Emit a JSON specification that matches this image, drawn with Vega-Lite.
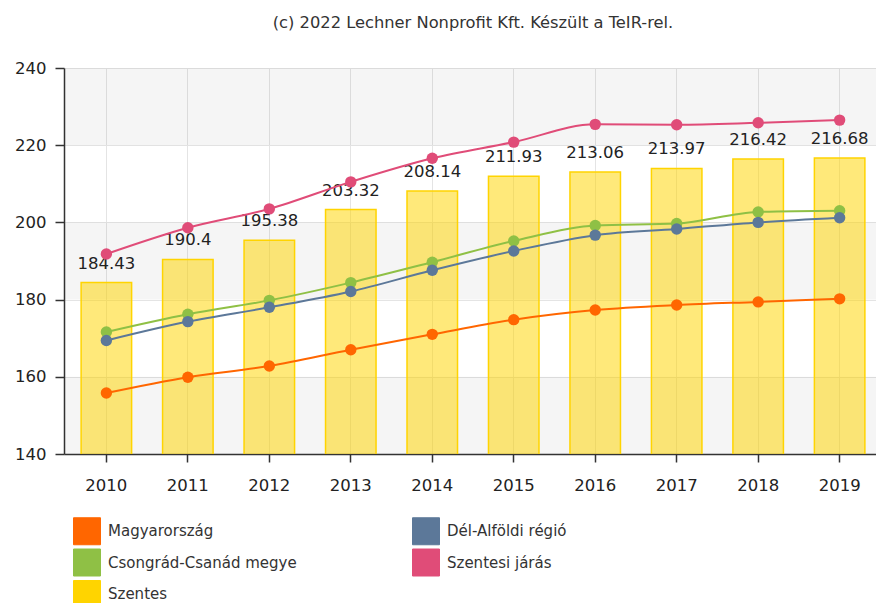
{
  "$schema": "https://vega.github.io/schema/vega-lite/v6.json",
  "autosize": "none",
  "width": 818,
  "height": 386,
  "padding": {"left": 64, "top": 68, "right": 0, "bottom": 149},
  "background": "#ffffff",
  "title": {
    "text": "(c) 2022 Lechner Nonprofit Kft. Készült a TeIR-rel.",
    "font": "DejaVu Sans",
    "fontSize": 16.3,
    "fontWeight": "normal",
    "color": "#333333",
    "anchor": "middle",
    "baseline": "alphabetic",
    "offset": 16
  },
  "config": {
    "font": "DejaVu Sans",
    "view": {"stroke": null},
    "axis": {
      "labelFont": "DejaVu Sans",
      "labelFontSize": 16.5,
      "labelColor": "#222222",
      "domainColor": "#333333",
      "domainWidth": 1.5,
      "tickColor": "#333333",
      "tickWidth": 1.5,
      "gridColor": "#e4e4e4",
      "gridWidth": 1,
      "title": null
    },
    "legend": {
      "labelFont": "DejaVu Sans",
      "labelFontSize": 15,
      "labelColor": "#333333",
      "labelLimit": 400
    }
  },
  "datasets": {
    "bands": [
      {"lo": 140, "hi": 160},
      {"lo": 180, "hi": 200},
      {"lo": 220, "hi": 240}
    ],
    "main": [
      {"year": "2010", "series": "Szentes", "value": 184.43},
      {"year": "2011", "series": "Szentes", "value": 190.4},
      {"year": "2012", "series": "Szentes", "value": 195.38},
      {"year": "2013", "series": "Szentes", "value": 203.32},
      {"year": "2014", "series": "Szentes", "value": 208.14},
      {"year": "2015", "series": "Szentes", "value": 211.93},
      {"year": "2016", "series": "Szentes", "value": 213.06},
      {"year": "2017", "series": "Szentes", "value": 213.97},
      {"year": "2018", "series": "Szentes", "value": 216.42},
      {"year": "2019", "series": "Szentes", "value": 216.68},
      {"year": "2010", "series": "Szentesi járás", "value": 191.8},
      {"year": "2011", "series": "Szentesi járás", "value": 198.6},
      {"year": "2012", "series": "Szentesi járás", "value": 203.5},
      {"year": "2013", "series": "Szentesi járás", "value": 210.5},
      {"year": "2014", "series": "Szentesi járás", "value": 216.6},
      {"year": "2015", "series": "Szentesi járás", "value": 220.8},
      {"year": "2016", "series": "Szentesi járás", "value": 225.4},
      {"year": "2017", "series": "Szentesi járás", "value": 225.3},
      {"year": "2018", "series": "Szentesi járás", "value": 225.8},
      {"year": "2019", "series": "Szentesi járás", "value": 226.5},
      {"year": "2010", "series": "Csongrád-Csanád megye", "value": 171.6},
      {"year": "2011", "series": "Csongrád-Csanád megye", "value": 176.2},
      {"year": "2012", "series": "Csongrád-Csanád megye", "value": 179.8},
      {"year": "2013", "series": "Csongrád-Csanád megye", "value": 184.4},
      {"year": "2014", "series": "Csongrád-Csanád megye", "value": 189.7},
      {"year": "2015", "series": "Csongrád-Csanád megye", "value": 195.2},
      {"year": "2016", "series": "Csongrád-Csanád megye", "value": 199.2},
      {"year": "2017", "series": "Csongrád-Csanád megye", "value": 199.7},
      {"year": "2018", "series": "Csongrád-Csanád megye", "value": 202.7},
      {"year": "2019", "series": "Csongrád-Csanád megye", "value": 203.0},
      {"year": "2010", "series": "Dél-Alföldi régió", "value": 169.4},
      {"year": "2011", "series": "Dél-Alföldi régió", "value": 174.3},
      {"year": "2012", "series": "Dél-Alföldi régió", "value": 178.0},
      {"year": "2013", "series": "Dél-Alföldi régió", "value": 182.1},
      {"year": "2014", "series": "Dél-Alföldi régió", "value": 187.6},
      {"year": "2015", "series": "Dél-Alföldi régió", "value": 192.6},
      {"year": "2016", "series": "Dél-Alföldi régió", "value": 196.7},
      {"year": "2017", "series": "Dél-Alföldi régió", "value": 198.3},
      {"year": "2018", "series": "Dél-Alföldi régió", "value": 200.0},
      {"year": "2019", "series": "Dél-Alföldi régió", "value": 201.2},
      {"year": "2010", "series": "Magyarország", "value": 155.8},
      {"year": "2011", "series": "Magyarország", "value": 159.9},
      {"year": "2012", "series": "Magyarország", "value": 162.8},
      {"year": "2013", "series": "Magyarország", "value": 167.0},
      {"year": "2014", "series": "Magyarország", "value": 171.0},
      {"year": "2015", "series": "Magyarország", "value": 174.8},
      {"year": "2016", "series": "Magyarország", "value": 177.3},
      {"year": "2017", "series": "Magyarország", "value": 178.6},
      {"year": "2018", "series": "Magyarország", "value": 179.4},
      {"year": "2019", "series": "Magyarország", "value": 180.2}
    ]
  },
  "layer": [
    {
      "data": {"name": "bands"},
      "mark": {"type": "rect", "color": "#000000", "opacity": 0.04},
      "encoding": {
        "y": {"field": "lo", "type": "quantitative", "scale": {"domain": [140, 240], "nice": false, "zero": false},
          "axis": {"values": [140, 160, 180, 200, 220, 240], "grid": true, "tickSize": 9, "labelPadding": 9}},
        "y2": {"field": "hi"}
      }
    },
    {
      "data": {"name": "main"},
      "transform": [{"filter": "datum.series === 'Szentes'"}],
      "layer": [
        {
          "mark": {"type": "bar", "clip": true, "fillOpacity": 0.52, "stroke": "#FFD400", "strokeWidth": 1.5, "strokeOpacity": 1},
          "encoding": {
            "x": {
              "field": "year",
              "type": "ordinal",
              "scale": {"type": "band", "paddingInner": 0.38, "paddingOuter": 0.21},
              "axis": {"labelAngle": 0, "grid": true, "tickSize": 8, "labelPadding": 15, "bandPosition": 0.5}
            },
            "y": {"field": "value", "type": "quantitative"},
            "color": {
              "field": "series",
              "type": "nominal",
              "scale": {
                "domain": ["Magyarország", "Dél-Alföldi régió", "Csongrád-Csanád megye", "Szentesi járás", "Szentes"],
                "range": ["#FF6600", "#5C7899", "#8FC045", "#E04C78", "#FFD400"]
              },
              "legend": {
                "title": null,
                "orient": "none",
                "direction": "horizontal",
                "legendX": 9,
                "legendY": 449,
                "columns": 2,
                "columnPadding": 113,
                "rowPadding": -0.5,
                "symbolType": "square",
                "symbolSize": 729,
                "symbolOffset": 0,
                "labelOffset": 7,
                "labelLimit": 400,
                "symbolStrokeWidth": 1,
                "symbolStrokeColor": "#f4f4f4",
                "encode": {
                  "symbols": {
                    "update": {
                      "fill": {"scale": "color", "field": "value"},
                      "stroke": {"value": "#f4f4f4"},
                      "opacity": {"value": 1},
                      "fillOpacity": {"value": 1}
                    }
                  }
                }
              }
            }
          }
        },
        {
          "mark": {"type": "text", "baseline": "alphabetic", "dy": -14, "fontSize": 16.5, "color": "#222222", "font": "DejaVu Sans"},
          "encoding": {
            "x": {"field": "year", "type": "ordinal"},
            "y": {"field": "value", "type": "quantitative"},
            "text": {"field": "value", "type": "quantitative"}
          }
        }
      ]
    },
    {
      "data": {"name": "main"},
      "transform": [{"filter": "datum.series !== 'Szentes'"}],
      "layer": [
        {
          "mark": {"type": "line", "interpolate": "monotone", "strokeWidth": 2},
          "encoding": {
            "x": {"field": "year", "type": "ordinal"},
            "y": {"field": "value", "type": "quantitative"},
            "color": {"field": "series", "type": "nominal"}
          }
        },
        {
          "mark": {"type": "circle", "size": 130, "opacity": 1},
          "encoding": {
            "x": {"field": "year", "type": "ordinal"},
            "y": {"field": "value", "type": "quantitative"},
            "color": {"field": "series", "type": "nominal"}
          }
        }
      ]
    }
  ]
}
